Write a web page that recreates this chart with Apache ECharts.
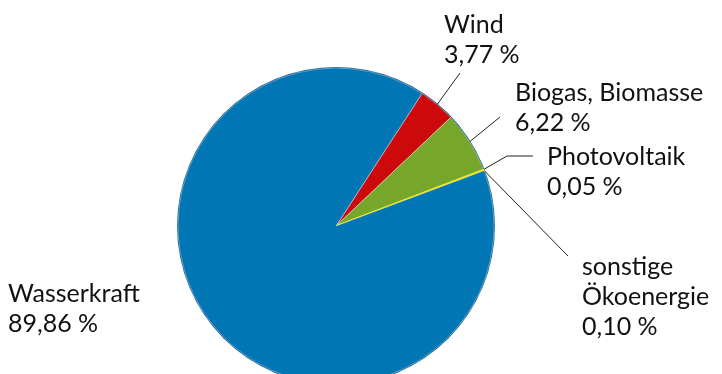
<!DOCTYPE html>
<html style="height: 100%">
<head>
<meta charset="utf-8">
<script src="https://cdn.jsdelivr.net/npm/echarts@6/dist/echarts.min.js"></script>
</head>
<body style="height: 100%; margin: 0; background: #fff">
<div id="container" style="width: 722px; height: 374px"></div>
<script type="text/javascript">
// shares of green electricity sources, in percent
var categories = ['Wind', 'Biogas, Biomasse', 'Photovoltaik', 'sonstige\nÖkoenergie', 'Wasserkraft'];
var shares = [3.77, 6.22, 0.05, 0.10, 89.86];
var colors = ['#cc0a0c', '#76a72a', '#9a9a20', '#f2e400', '#0076b5'];

// where each label sits and where its leader line bends (pixels)
var labelSpots = [
    { x: 444, y: 10, line: [[460, 73]] },
    { x: 515, y: 78, line: [[500, 117]] },
    { x: 547, y: 142, line: [[507, 156], [533, 156]] },
    { x: 582, y: 252, line: [[568, 256]] },
    { x: 8, y: 279, line: null }
];

var dom = document.getElementById('container');
var myChart = echarts.init(dom);

var data = [];
for (var i = 0; i < categories.length; i++) {
    data.push({
        name: categories[i],
        value: shares[i],
        itemStyle: {
            color: colors[i],
            borderColor: i == 3 ? '#f2e400' : 'rgba(255,255,255,0.35)',
            borderWidth: i == 3 ? 1.5 : 1
        },
        labelLine: { show: labelSpots[i].line != null }
    });
}

var option = {
    animation: false,
    series: [{
        // thin dark rim round the pie
        type: 'pie',
        center: [336, 226],
        radius: [157, 159],
        silent: true,
        label: { show: false },
        labelLine: { show: false },
        itemStyle: { color: '#1a5f8e' },
        data: [{ name: 'rim', value: 1 }],
        z: 1
    }, {
        type: 'pie',
        center: [336, 226],
        radius: 158,
        startAngle: 57,
        clockwise: true,
        avoidLabelOverlap: false,
        data: data,
        z: 2,
        label: {
            show: true,
            color: '#111',
            fontFamily: 'Lato',
            fontSize: 25,
            lineHeight: 30,
            align: 'left',
            formatter: function (p) {
                return p.name + '\n' + p.value.toFixed(2).replace('.', ',') + ' %';
            }
        },
        labelLine: {
            show: true,
            lineStyle: { color: '#222', width: 1 }
        },
        labelLayout: function (params) {
            var spot = labelSpots[params.dataIndex];
            var res = { x: spot.x, y: spot.y, align: 'left', verticalAlign: 'top' };
            if (spot.line && params.labelLinePoints) {
                res.labelLinePoints = [params.labelLinePoints[0]].concat(spot.line);
                if (spot.line.length == 1) {
                    res.labelLinePoints.push(spot.line[0]);
                }
            }
            return res;
        }
    }]
};

myChart.setOption(option);
</script>
</body>
</html>
